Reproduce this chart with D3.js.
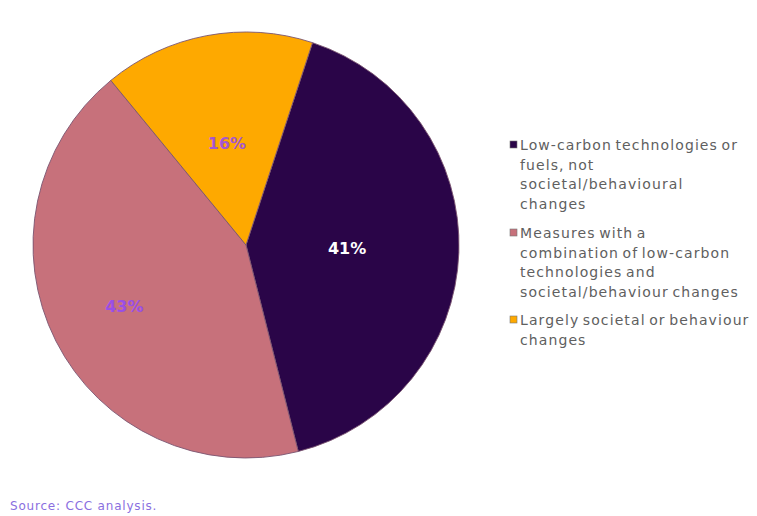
<!DOCTYPE html>
<html>
<head>
<meta charset="utf-8">
<script src="https://cdn.jsdelivr.net/npm/d3@7"></script>
<style>
  html, body { margin: 0; padding: 0; background: #ffffff; }
  svg { display: block; }
</style>
</head>
<body>
<svg id="chart" width="757" height="516"></svg>
<script>
// Share of abatement by type of measure
const categories = [
  "Low-carbon technologies or fuels, not societal/behavioural changes",
  "Measures with a combination of low-carbon technologies and societal/behaviour changes",
  "Largely societal or behaviour changes"
];
const values = [41, 43, 16];
const sliceColors = ["#2a0548", "#c7717b", "#fea900"];
const labelColors = ["#ffffff", "#9a4fe6", "#a457cf"];
const legendLines = [
  ["Low-carbon technologies or", "fuels, not", "societal/behavioural", "changes"],
  ["Measures with a", "combination of low-carbon", "technologies and", "societal/behaviour changes"],
  ["Largely societal or behaviour", "changes"]
];
const sourceText = "Source: CCC analysis.";

const svg = d3.select("#chart");
const cx = 246, cy = 245, radius = 213;
const startOffset = 18.2 * Math.PI / 180;
// distance of each percentage label from the centre, as a share of the radius
const labelRadiusShare = [0.475, 0.64, 0.485];

const pie = d3.pie()
  .sort(null)
  .value(d => d)
  .startAngle(startOffset)
  .endAngle(startOffset + 2 * Math.PI);

const arc = d3.arc().innerRadius(0).outerRadius(radius);

const g = svg.append("g").attr("transform", `translate(${cx},${cy})`);
const arcs = pie(values);

g.selectAll("path.slice")
  .data(arcs)
  .join("path")
  .attr("class", "slice")
  .attr("d", arc)
  .attr("fill", (d, i) => sliceColors[i])
  .attr("stroke", "#7b5570")
  .attr("stroke-width", 0.9);

const labelFont = "'DejaVu Sans', sans-serif";
g.selectAll("text.pct")
  .data(arcs)
  .join("text")
  .attr("class", "pct")
  .attr("transform", (d, i) => {
    const r = radius * labelRadiusShare[i];
    const [x, y] = d3.arc().innerRadius(r).outerRadius(r).centroid(d);
    return `translate(${x},${y})`;
  })
  .attr("text-anchor", "middle")
  .attr("dominant-baseline", "central")
  .attr("font-family", labelFont)
  .attr("font-weight", "bold")
  .attr("font-size", 16)
  .attr("fill", (d, i) => labelColors[i])
  .text(d => d.data + "%");

// Legend
const legend = svg.append("g").attr("transform", "translate(510,0)");
const lineH = 19.6;
const groupTops = [145, 233, 320];
legendLines.forEach((lines, i) => {
  const y0 = groupTops[i];
  legend.append("rect")
    .attr("x", 0)
    .attr("y", y0 - 4)
    .attr("width", 7)
    .attr("height", 7)
    .attr("fill", sliceColors[i])
    .attr("stroke", "#777")
    .attr("stroke-width", 0.6);
  lines.forEach((t, j) => {
    legend.append("text")
      .attr("x", 10)
      .attr("y", y0 + j * lineH)
      .attr("dominant-baseline", "central")
      .attr("font-family", labelFont)
      .attr("font-size", 14)
      .attr("letter-spacing", 1.1)
      .attr("word-spacing", -2)
      .attr("fill", "#606060")
      .text(t);
  });
});

svg.append("text")
  .attr("x", 10)
  .attr("y", 506)
  .attr("dominant-baseline", "central")
  .attr("font-family", labelFont)
  .attr("font-size", 12)
  .attr("letter-spacing", 0.8)
  .attr("fill", "#8a6fe0")
  .text(sourceText);
</script>
</body>
</html>
